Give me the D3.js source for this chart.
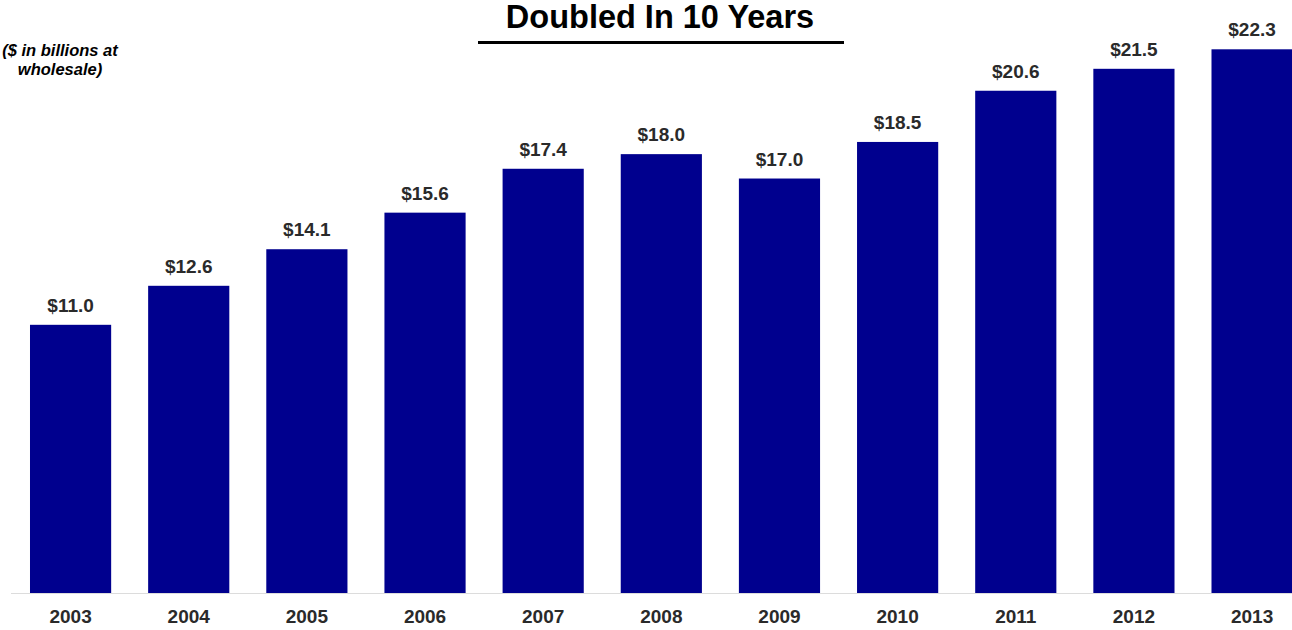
<!DOCTYPE html>
<html>
<head>
<meta charset="utf-8">
<script src="https://cdn.jsdelivr.net/npm/d3@7"></script>
<style>
  html, body { margin: 0; padding: 0; background: #fff; }
  svg { display: block; font-family: "Liberation Sans", Arial, sans-serif; }
</style>
</head>
<body>
<svg id="chart" width="1292" height="630"></svg>
<script>
// Wholesale sales, $ billions
const years = ["2003", "2004", "2005", "2006", "2007", "2008", "2009", "2010", "2011", "2012", "2013"];
const sales = [11.0, 12.6, 14.1, 15.6, 17.4, 18.0, 17.0, 18.5, 20.6, 21.5, 22.3];
const valueLabels = ["$11.0", "$12.6", "$14.1", "$15.6", "$17.4", "$18.0", "$17.0", "$18.5", "$20.6", "$21.5", "$22.3"];

const svg = d3.select("#chart");
const W = 1292, H = 630;
const baseY = 593;

const x = d3.scaleBand()
  .domain(years)
  .range([11.5, 11.5 + 11 * 118.15])
  .paddingInner(0.313)
  .paddingOuter(0.1565);

const y = d3.scaleLinear()
  .domain([0, 22.3])
  .range([baseY, 49.3]);

// baseline
svg.append("line")
  .attr("x1", 11).attr("x2", W)
  .attr("y1", baseY + 0.5).attr("y2", baseY + 0.5)
  .attr("stroke", "#dcdcdc").attr("stroke-width", 1);

const data = years.map((yr, i) => ({ yr, v: sales[i], label: valueLabels[i] }));

// bars
svg.selectAll("rect.bar")
  .data(data)
  .join("rect")
  .attr("class", "bar")
  .attr("x", d => x(d.yr))
  .attr("y", d => y(d.v))
  .attr("width", x.bandwidth())
  .attr("height", d => baseY - y(d.v))
  .attr("fill", "#00008e");

// value labels
svg.selectAll("text.val")
  .data(data)
  .join("text")
  .attr("class", "val")
  .attr("x", d => x(d.yr) + x.bandwidth() / 2)
  .attr("y", d => y(d.v) - 13)
  .attr("text-anchor", "middle")
  .attr("font-size", 19)
  .attr("font-weight", "bold")
  .attr("fill", "#2a2a2a")
  .text(d => d.label);

// year axis
const xAxis = svg.append("g")
  .attr("transform", `translate(0,${baseY})`)
  .call(d3.axisBottom(x).tickSize(0).tickPadding(0));
xAxis.select(".domain").remove();
xAxis.selectAll("text")
  .attr("dy", null)
  .attr("y", 30)
  .attr("font-family", "\"Liberation Sans\", Arial, sans-serif")
  .attr("font-size", 19)
  .attr("font-weight", "bold")
  .attr("fill", "#2a2a2a");

// title
svg.append("text")
  .attr("x", 660).attr("y", 28)
  .attr("text-anchor", "middle")
  .attr("font-size", 32.5)
  .attr("font-weight", "bold")
  .attr("fill", "#000")
  .text("Doubled In 10 Years");

svg.append("line")
  .attr("x1", 478).attr("x2", 844)
  .attr("y1", 42.5).attr("y2", 42.5)
  .attr("stroke", "#000").attr("stroke-width", 3);

// units note
const note = svg.append("text")
  .attr("text-anchor", "middle")
  .attr("font-size", 16.5)
  .attr("font-weight", "bold")
  .attr("font-style", "italic")
  .attr("fill", "#000");
note.append("tspan").attr("x", 60).attr("y", 56).text("($ in billions at");
note.append("tspan").attr("x", 60).attr("y", 75).text("wholesale)");
</script>
</body>
</html>
